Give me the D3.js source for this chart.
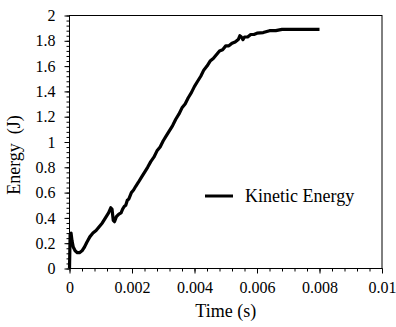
<!DOCTYPE html>
<html>
<head>
<meta charset="utf-8">
<script src="https://cdn.jsdelivr.net/npm/d3@7"></script>
<style>
  body { margin: 0; background: #fff; }
  svg text { font-family: "Liberation Serif", "Times New Roman", Times, serif; fill: #000; }
</style>
</head>
<body>
<div id="chart"></div>
<script>
// Data
const time = [0, 0.00002, 0.00005, 0.00008, 0.00012, 0.00018, 0.00025, 0.00032, 0.0004, 0.00048,
  0.00056, 0.00065, 0.00075, 0.00085, 0.00095, 0.00105, 0.00115, 0.00125, 0.00132, 0.00136,
  0.0014, 0.00144, 0.0015, 0.00158, 0.00165, 0.0017, 0.00175, 0.0018, 0.00185, 0.0019,
  0.00198, 0.00205, 0.00212, 0.0022, 0.0023, 0.0024, 0.0025, 0.0026, 0.0027, 0.0028,
  0.0029, 0.003, 0.0031, 0.0032, 0.0033, 0.0034, 0.0035, 0.0036, 0.0037, 0.0038,
  0.0039, 0.004, 0.0041, 0.0042, 0.0043, 0.0044, 0.0045, 0.0046, 0.0047, 0.0048,
  0.0049, 0.005, 0.0051, 0.0052, 0.0053, 0.0054, 0.00545, 0.0055, 0.00555, 0.0056,
  0.0057, 0.0058, 0.0059, 0.006, 0.0062, 0.0064, 0.0066, 0.0068, 0.0072, 0.0076, 0.008]
const energy = [0, 0.27, 0.28, 0.22, 0.17, 0.14, 0.125, 0.125, 0.14, 0.17,
  0.21, 0.25, 0.28, 0.30, 0.33, 0.36, 0.40, 0.44, 0.48, 0.47,
  0.38, 0.37, 0.41, 0.43, 0.44, 0.47, 0.49, 0.50, 0.54, 0.55,
  0.60, 0.62, 0.65, 0.68, 0.72, 0.76, 0.80, 0.845, 0.88, 0.93,
  0.96, 1.01, 1.05, 1.09, 1.13, 1.18, 1.22, 1.27, 1.30, 1.35,
  1.39, 1.44, 1.48, 1.52, 1.57, 1.60, 1.64, 1.66, 1.69, 1.72,
  1.73, 1.76, 1.76, 1.78, 1.79, 1.81, 1.84, 1.83, 1.81, 1.83,
  1.83, 1.85, 1.85, 1.86, 1.865, 1.88, 1.88, 1.89, 1.89, 1.89, 1.89]

const xTicks = [0, 0.002, 0.004, 0.006, 0.008, 0.01]
const yTicks = [0, 0.2, 0.4, 0.6, 0.8, 1, 1.2, 1.4, 1.6, 1.8, 2]
const seriesName = 'Kinetic Energy'

const dims = { width: 396, height: 327, left: 69.5, right: 382, top: 15.5, bottom: 268.5 }
const serif = '"Liberation Serif", "Times New Roman", Times, serif'

const svg = d3.select('#chart')
  .append('svg')
  .attr('width', dims.width)
  .attr('height', dims.height)

const x = d3.scaleLinear().domain([0, 0.01]).range([dims.left, dims.right])
const y = d3.scaleLinear().domain([0, 2]).range([dims.bottom, dims.top])

// minor ticks (5 per major step)
const xMinor = d3.range(0, 0.01 + 1e-9, 0.0004)
const yMinor = d3.range(0, 2 + 1e-9, 0.04)

svg.append('g')
  .attr('transform', `translate(0,${dims.bottom})`)
  .call(d3.axisBottom(x).tickValues(xMinor).tickSize(3).tickFormat(''))
  .call(g => g.select('.domain').remove())

svg.append('g')
  .attr('transform', `translate(${dims.left},0)`)
  .call(d3.axisLeft(y).tickValues(yMinor).tickSize(3).tickFormat(''))
  .call(g => g.select('.domain').remove())

svg.append('g')
  .attr('transform', `translate(0,${dims.bottom})`)
  .call(d3.axisBottom(x).tickValues(xTicks).tickSize(5).tickPadding(8).tickSizeOuter(0)
    .tickFormat(d => d === 0 ? '0' : d3.format('.3~f')(d)))
  .call(g => g.select('.domain').remove())
  .call(g => g.attr('font-family', null).attr('font-size', null))
  .call(g => g.selectAll('text').style('font-family', serif).style('font-size', '16px'))

svg.append('g')
  .attr('transform', `translate(${dims.left},0)`)
  .call(d3.axisLeft(y).tickValues(yTicks).tickSize(5).tickPadding(9).tickSizeOuter(0)
    .tickFormat(d3.format('~g')))
  .call(g => g.select('.domain').remove())
  .call(g => g.attr('font-family', null).attr('font-size', null))
  .call(g => g.selectAll('text').style('font-family', serif).style('font-size', '16px'))

// frame
svg.append('rect')
  .attr('x', dims.left)
  .attr('y', dims.top)
  .attr('width', dims.right - dims.left)
  .attr('height', dims.bottom - dims.top)
  .attr('fill', 'none')
  .attr('stroke', '#000')
  .attr('stroke-width', 1)

// line
const line = d3.line()
  .x((d, i) => x(time[i]))
  .y(d => y(d))

svg.append('path')
  .datum(energy)
  .attr('d', line)
  .attr('fill', 'none')
  .attr('stroke', '#000')
  .attr('stroke-width', 3.2)
  .attr('stroke-linejoin', 'round')

// legend
const legend = svg.append('g').attr('transform', 'translate(205,196)')
legend.append('line')
  .attr('x1', 0).attr('x2', 28)
  .attr('stroke', '#000').attr('stroke-width', 3)
legend.append('text')
  .attr('x', 40).attr('y', 6)
  .style('font-family', serif).style('font-size', '18px')
  .text(seriesName)

// axis titles
svg.append('text')
  .attr('x', (dims.left + dims.right) / 2)
  .attr('y', 317)
  .attr('text-anchor', 'middle')
  .style('font-family', serif).style('font-size', '18px')
  .text('Time (s)')

svg.append('text')
  .attr('transform', 'translate(20,155) rotate(-90)')
  .attr('text-anchor', 'middle')
  .style('font-family', serif).style('font-size', '18px')
  .style('white-space', 'pre')
  .text('Energy  (J)')
</script>
</body>
</html>
